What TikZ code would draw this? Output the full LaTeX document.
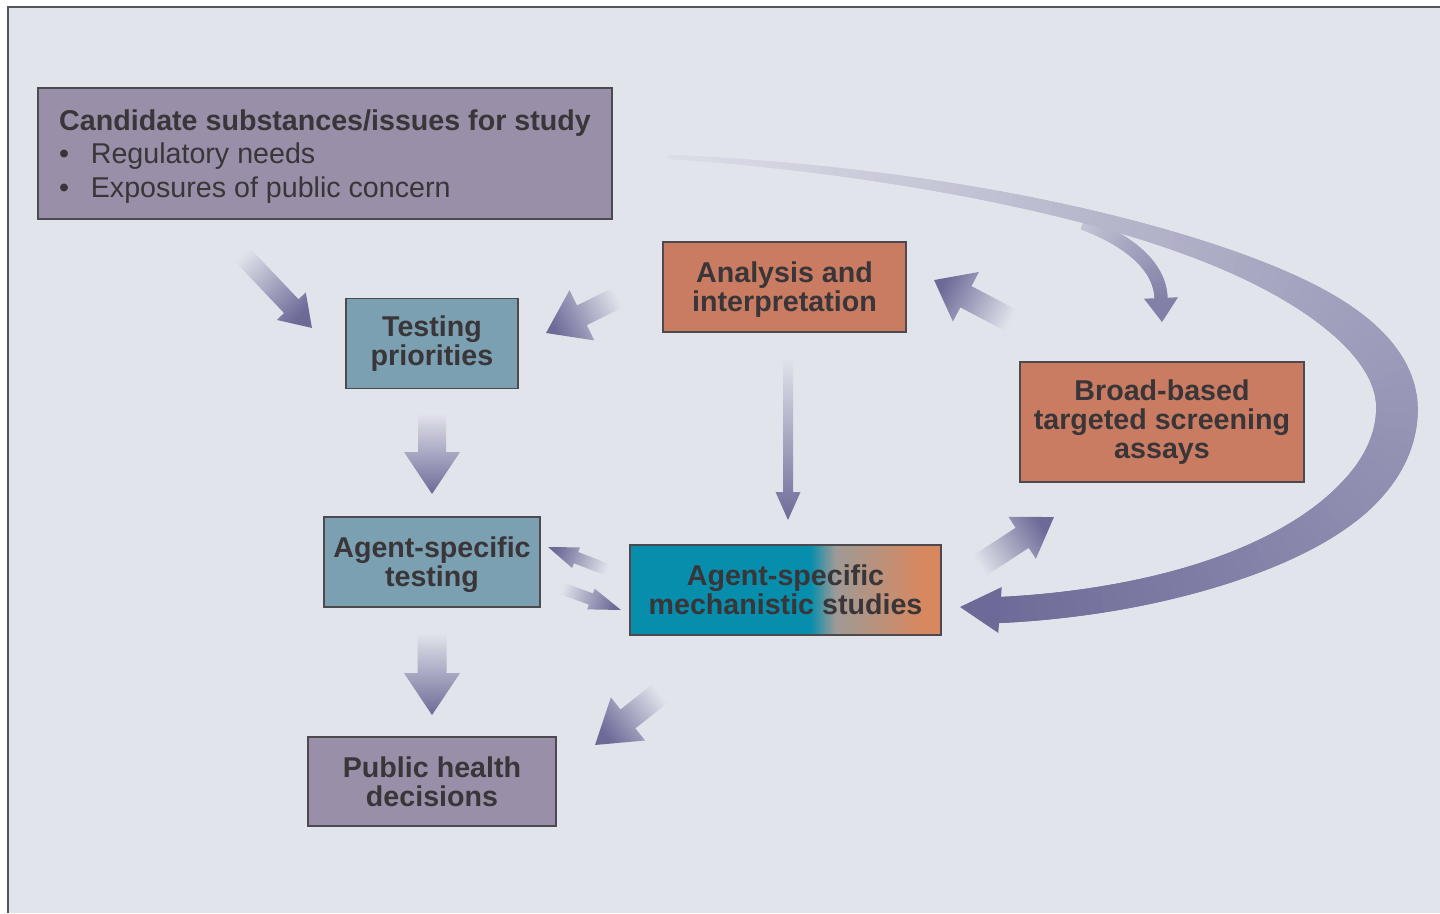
\documentclass[tikz,border=0pt]{standalone}
\usepackage{fontspec}
\setmainfont{Liberation Sans}
\usetikzlibrary{calc,decorations.markings}

\definecolor{bgc}{HTML}{E2E4EB}
\definecolor{framec}{HTML}{555558}
\definecolor{arrowc}{HTML}{6D6A98}
\definecolor{candfill}{HTML}{9A8FA8}
\definecolor{tealfill}{HTML}{7AA0B1}
\definecolor{orangefill}{HTML}{C97C61}
\definecolor{boxline}{HTML}{4D4A4F}
\definecolor{textc}{HTML}{3A3538}
\definecolor{mechteal}{HTML}{078EAC}
\definecolor{mechgrey}{HTML}{9E9A96}
\definecolor{mechorange}{HTML}{D8885F}

\pgfdeclarehorizontalshading{mechshade}{100bp}{color(0bp)=(mechteal); color(54bp)=(mechteal); color(58bp)=(mechgrey); color(72bp)=(mechorange); color(100bp)=(mechorange)}

\def\pxpt{0.569}
\newdimen\tailx \newdimen\taily \newdimen\tipx \newdimen\tipy
\newcommand{\fatarrow}[5]{%
  \pgfextractx{\tailx}{\pgfpointanchor{#1}{center}}%
  \pgfextracty{\taily}{\pgfpointanchor{#1}{center}}%
  \pgfextractx{\tipx}{\pgfpointanchor{#2}{center}}%
  \pgfextracty{\tipy}{\pgfpointanchor{#2}{center}}%
  \pgfmathsetmacro{\arrang}{atan2(\tipy-\taily,\tipx-\tailx)}%
  \pgfmathsetmacro{\arrshade}{\arrang-90}%
  \pgfmathsetmacro{\arrlen}{veclen(\tipx-\tailx,\tipy-\taily)}%
  \pgfmathsetmacro{\arrshaft}{#3*\pxpt}%
  \pgfmathsetmacro{\arrhead}{#4*\pxpt}%
  \pgfmathsetmacro{\arrbase}{\arrlen-#5*\pxpt}%
  \begin{scope}[shift={(#1)}, rotate=\arrang]
    \shade[top color=arrowc, bottom color=bgc, shading angle=\arrshade]
      (0pt,-\arrshaft pt) -- (\arrbase pt,-\arrshaft pt) -- (\arrbase pt,-\arrhead pt)
      -- (\arrlen pt,0pt) -- (\arrbase pt,\arrhead pt) -- (\arrbase pt,\arrshaft pt)
      -- (0pt,\arrshaft pt) -- cycle;
  \end{scope}}

\begin{document}
\begin{tikzpicture}[x=0.02cm, y=-0.02cm,
  box/.style={draw=boxline, line width=1pt, text=textc, align=center, inner sep=0pt,
    font=\bfseries\fontsize{16.3}{16.5}\selectfont},
  loopribbon/.style={decoration={markings, mark=between positions 0 and 1 step 1.2pt with {
    \pgfmathsetmacro{\ribp}{\pgfkeysvalueof{/pgf/decoration/mark info/distance from start}/\pgfdecoratedpathlength}
    \pgfmathsetmacro{\ribd}{(\ribp-0.62)/0.14}
    \pgfmathsetmacro{\ribw}{(4+22*min(\ribp/0.7,1)+18*exp(-(\ribd)*(\ribd)))*\pxpt/2}
    \pgfmathtruncatemacro{\ribc}{6+94*\ribp}
    \fill[arrowc!\ribc!bgc] (-1.3pt,-\ribw pt) rectangle (1.3pt,\ribw pt);}}, decorate},
  branchribbon/.style={decoration={markings, mark=between positions 0 and 1 step 1.2pt with {
    \pgfmathsetmacro{\ribp}{\pgfkeysvalueof{/pgf/decoration/mark info/distance from start}/\pgfdecoratedpathlength}
    \pgfmathtruncatemacro{\ribc}{26+56*\ribp}
    \fill[arrowc!\ribc!bgc] (-1.3pt,-3.7pt) rectangle (1.3pt,3.7pt);}}, decorate}]

\useasboundingbox (0,0) rectangle (1440,913);
\fill[white] (0,0) rectangle (1440,913);
\fill[bgc] (8,7) rectangle (1440,913);
\draw[framec, line width=1.2pt] (8,913) -- (8,7) -- (1440,7);

\node[box, fill=candfill, minimum width=11.48cm, minimum height=2.62cm,
  align=left, font=\fontsize{16.3}{18.8}\selectfont] (cand) at (325,153.5)
  {\rule{0pt}{15.3pt}\textbf{Candidate substances/issues for study}\\
   \makebox[18pt][l]{\textbullet}Regulatory needs\\
   \makebox[18pt][l]{\textbullet}Exposures of public concern};
\node[box, fill=tealfill, minimum width=3.44cm, minimum height=1.8cm] (testpri) at (432,343.5) {Testing\\priorities};
\node[box, fill=orangefill, minimum width=4.86cm, minimum height=1.8cm] (analysis) at (784.5,287) {\rule{0pt}{15.3pt}Analysis and\\interpretation};
\node[box, fill=orangefill, minimum width=5.68cm, minimum height=2.4cm] (broad) at (1162,422) {Broad-based\\targeted screening\\assays};
\node[box, fill=tealfill, minimum width=4.32cm, minimum height=1.8cm] (agtest) at (432,562) {\rule{0pt}{15.3pt}Agent-specific\\testing};
\node[box, shade, shading=mechshade, minimum width=6.22cm, minimum height=1.8cm] (mech) at (785.5,590) {Agent-specific\\mechanistic studies};
\node[box, fill=candfill, minimum width=4.96cm, minimum height=1.78cm] (public) at (432,781.5) {Public health\\decisions};

\coordinate (candout) at (237,249);
\coordinate (priin) at (312,328);
\coordinate (anaout) at (621,296);
\coordinate (prifromana) at (546,333);
\coordinate (priout) at (432,413);
\coordinate (agin) at (432,494);
\coordinate (anadown) at (788,357);
\coordinate (mechin) at (788,520);
\coordinate (broadout) at (1014,322);
\coordinate (anain) at (934,280);
\coordinate (mechup) at (976,568);
\coordinate (broadin) at (1054,517);
\coordinate (mechleft) at (611,571);
\coordinate (agfrommech) at (548,547);
\coordinate (agright) at (558,587);
\coordinate (mechfromag) at (621,610);
\coordinate (agout) at (432,633);
\coordinate (pubin) at (432,715);
\coordinate (mechdown) at (662,692);
\coordinate (pubfrommech) at (595,745);

\fatarrow{candout}{priin}{10}{20}{30}
\fatarrow{anaout}{prifromana}{11}{28}{40}
\fatarrow{priout}{agin}{14}{28}{42}
\fatarrow{anadown}{mechin}{5}{12.5}{28}
\fatarrow{broadout}{anain}{12}{28}{36}
\fatarrow{mechup}{broadin}{12}{25}{38}
\fatarrow{mechleft}{agfrommech}{6}{11}{30}
\fatarrow{agright}{mechfromag}{6}{11}{32}
\fatarrow{agout}{pubin}{14.5}{28}{42}
\fatarrow{mechdown}{pubfrommech}{12}{27.5}{42}

\coordinate (loopstart) at (670,157);
\coordinate (loopright) at (1397,408);
\coordinate (loopend) at (1000,610);
\coordinate (looptip) at (960,607);
\coordinate (branchstart) at (1085,224);
\coordinate (branchend) at (1161,298);
\coordinate (branchtip) at (1162,322);

\path[branchribbon] (branchstart) .. controls (1132,242) and (1160,268) .. (branchend);
\fill[arrowc!82!bgc] ($(branchend)!0.34cm!90:(branchtip)$) -- (branchtip) -- ($(branchend)!0.34cm!-90:(branchtip)$) -- cycle;
\path[loopribbon] (loopstart) .. controls (1000,175) and (1395,265) .. (loopright)
  .. controls (1397,525) and (1205,600) .. (loopend);
\fill[arrowc] ($(loopend)!0.46cm!90:(looptip)$) -- (looptip) -- ($(loopend)!0.46cm!-90:(looptip)$) -- cycle;
\end{tikzpicture}
\end{document}
